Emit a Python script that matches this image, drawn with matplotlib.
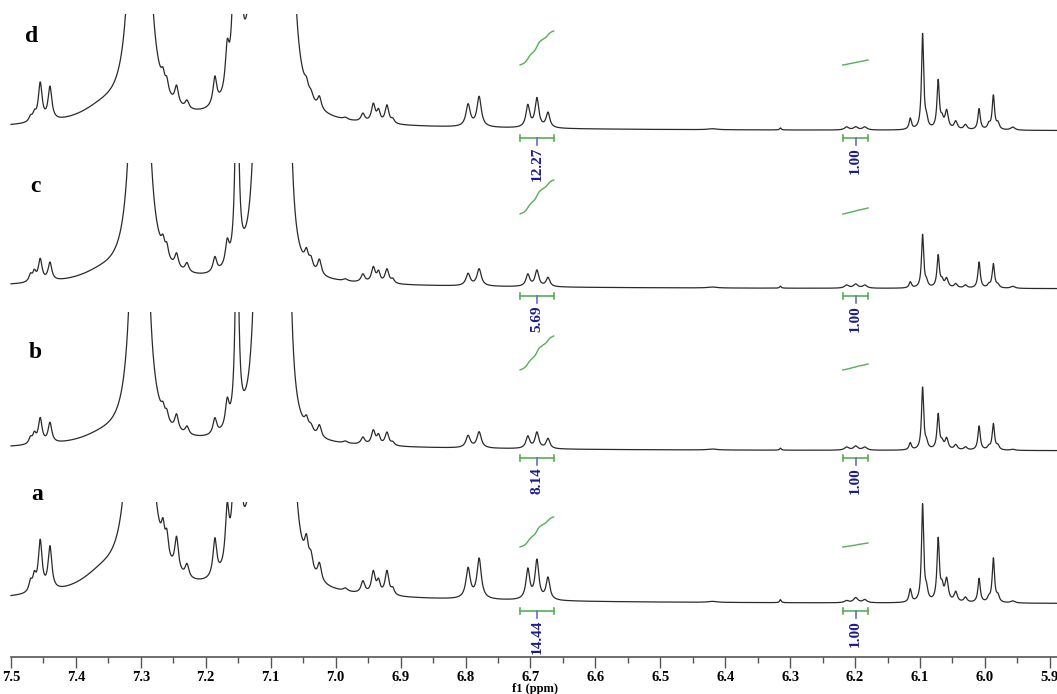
import numpy as np
import matplotlib.pyplot as plt
from matplotlib.patches import Rectangle

# peak table: position (ppm), half width (ppm), rise (px) per trace
peak_ppm = [7.470, 7.464, 7.455, 7.440, 7.360, 7.302, 7.266, 7.260, 7.245, 7.229,
            7.186, 7.167, 7.152, 7.115, 7.100, 7.077, 7.045, 7.038, 7.025, 6.985,
            6.958, 6.942, 6.934, 6.921, 6.912, 7.200, 6.796, 6.779, 6.704, 6.690,
            6.673, 6.420, 6.315, 6.213, 6.199, 6.185, 6.115, 6.096, 6.090, 6.072,
            6.066, 6.059, 6.045, 6.030, 6.009, 5.994, 5.987, 5.980, 5.957]
peak_hw = [0.003, 0.003, 0.0035, 0.0035, 0.04, 0.004, 0.003, 0.003, 0.0035, 0.0035,
           0.0035, 0.0035, 0.003, 0.004, 0.005, 0.004, 0.0035, 0.0035, 0.0035, 0.004,
           0.0035, 0.0035, 0.003, 0.0035, 0.003, 0.35, 0.004, 0.004, 0.0035, 0.0035,
           0.0035, 0.008, 0.0015, 0.004, 0.004, 0.004, 0.0022, 0.002, 0.0025, 0.0022,
           0.0025, 0.003, 0.003, 0.003, 0.0022, 0.0025, 0.0022, 0.0025, 0.004]
heights_a = [10, 14, 50, 43, 16, 3750, 22, 22, 34, 13,
             38, 55, 444, 1875, 400, 1625, 24, 15, 17, 3,
             12, 22, 12, 24, 6, 8, 30, 40, 30, 39,
             22, 1, 3, 2, 5, 3, 13, 97, 10, 62,
             12, 22, 10, 5, 24, 4, 44, 6, 2]
heights_b = [6, 9, 25, 20, 7, 2500, 9, 9, 16, 8,
             16, 26, 222, 1250, 400, 780, 10, 6, 12, 2,
             7, 14, 9, 13, 3, 5, 12, 16, 12, 16,
             10, 1, 2, 3, 4, 3, 7, 62, 6, 35,
             6, 11, 5, 3, 24, 3, 26, 4, 1]
heights_c = [7, 9, 22, 18, 8, 2625, 12, 12, 14, 9,
             15, 23, 222, 1250, 400, 810, 14, 10, 15, 2,
             8, 15, 10, 14, 4, 5, 12, 17, 12, 16,
             9, 1, 2, 3, 4, 3, 6, 53, 5, 32,
             6, 9, 4, 3, 26, 3, 24, 3, 2]
heights_d = [5, 7, 38, 33, 12, 3125, 12, 12, 18, 8,
             28, 40, 600, 2190, 400, 1750, 9, 6, 12, 2,
             8, 18, 11, 18, 4, 6, 22, 30, 22, 29,
             15, 1, 2, 3, 3, 3, 11, 95, 8, 48,
             8, 18, 8, 5, 21, 5, 34, 6, 3]

trace_names = ['a', 'b', 'c', 'd']
trace_offset = [53, 206, 368, 526]     # baseline, px above axis line
trace_clip = [155, 345, 494, 643]      # top of each trace band
integral_lift = [57, 81, 75, 66]
integral_span_1 = [30, 34, 34, 34]
integral_span_2 = [4, 6, 6, 5]
integral_vals = ['14.44', '8.14', '5.69', '12.27']
integral_ref = '1.00'
region_1 = (6.716, 6.664, 6.690)
region_2 = (6.219, 6.180, 6.199)

green = '#55b055'
navy = '#1c1c8c'
serif = 'Liberation Serif'

fig = plt.figure(figsize=(10.57, 6.94), dpi=100)
ax = fig.add_axes([11 / 1057, 37 / 694, 1 - 11 / 1057, 657 / 694])
ax.set_xlim(7.5, 5.889)
ax.set_ylim(0, 657)

x = np.linspace(7.5, 5.889, 8000)
p = np.array(peak_ppm)[:, None]
w = np.array(peak_hw)[:, None]
shape = w ** 2 / ((x[None, :] - p) ** 2 + w ** 2)

for i, hts in enumerate([heights_a, heights_b, heights_c, heights_d]):
    sig = (np.array(hts)[:, None] * shape).sum(axis=0)
    y = trace_offset[i] + sig
    ln, = ax.plot(x, y, color='#2a2a2a', lw=0.9)
    ln.set_clip_path(Rectangle((5.8, -50), 2, trace_clip[i] + 50, transform=ax.transData))

    base = trace_offset[i]
    for (reg, span) in [(region_1, integral_span_1[i]), (region_2, integral_span_2[i])]:
        hi, lo, mid = reg
        m = (x <= hi) & (x >= lo)
        cs = np.cumsum(sig[m])
        cs = cs / cs[-1]
        ax.plot(x[m], base + integral_lift[i] + span * cs, color=green, lw=1)
        # bracket under the multiplet
        yb = base - 7
        ax.plot([hi, lo], [yb, yb], color=green, lw=1.2)
        ax.plot([hi, hi], [yb - 3, yb + 3], color=green, lw=1.2)
        ax.plot([lo, lo], [yb - 3, yb + 3], color=green, lw=1.2)
        ax.plot([mid, mid], [yb, yb - 7], color='#6a6ad0', lw=1.2)
        lab = integral_vals[i] if reg is region_1 else integral_ref
        ax.text(mid, yb - 9, lab, rotation=90, ha='center', va='top',
                fontsize=11, fontweight='bold', family=serif, color=navy)

label_pos = [(37, 495), (35, 352), (35, 187), (32, 37)]
for name, (px, py) in zip(trace_names, label_pos):
    fig.text(px / 1057, 1 - py / 694, name, fontsize=17, fontweight='bold',
             family=serif, ha='center', va='center')

for s in ['top', 'left', 'right']:
    ax.spines[s].set_visible(False)
ax.spines['bottom'].set_color('#555555')
ax.spines['bottom'].set_linewidth(1.2)
ax.set_yticks([])
ax.set_xticks(np.arange(5.9, 7.51, 0.1))
ax.set_xticks(np.arange(5.95, 7.5, 0.1), minor=True)
ax.set_xticklabels(['%.1f' % v for v in np.arange(5.9, 7.51, 0.1)])
ax.tick_params(axis='x', which='major', length=8, width=1, color='#555555', pad=2)
ax.tick_params(axis='x', which='minor', length=4, width=1, color='#555555')
for t in ax.get_xticklabels():
    t.set_family(serif)
    t.set_fontweight('bold')
    t.set_fontsize(10.5)
fig.text(535 / 1057, 1 - 689 / 694, 'f1 (ppm)', fontsize=9, fontweight='bold',
         family=serif, ha='center', va='center')

fig.savefig('out.png', dpi=100)
